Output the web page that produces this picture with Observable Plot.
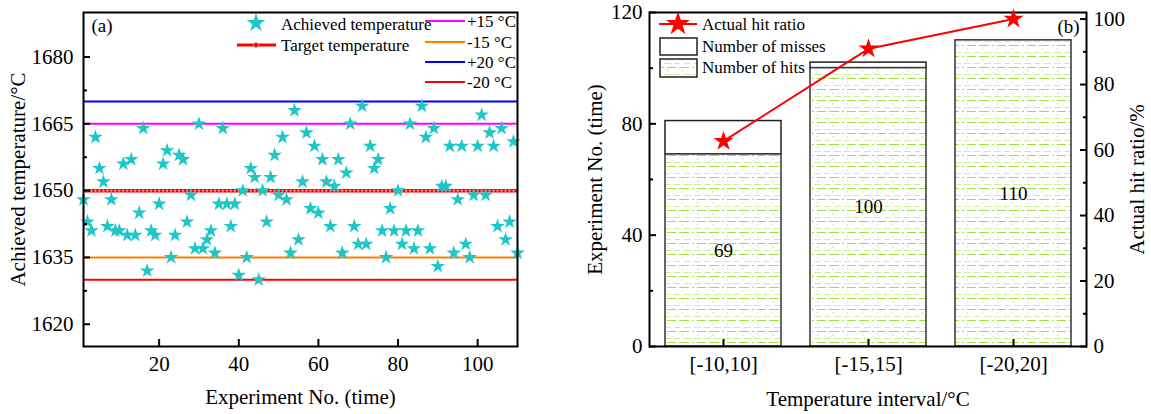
<!DOCTYPE html>
<html><head><meta charset="utf-8">
<script src="https://cdn.jsdelivr.net/npm/d3@7"></script>
<script src="https://cdn.jsdelivr.net/npm/@observablehq/plot@0.6"></script>
<style>
html,body{margin:0;padding:0;background:#fff;}
#chart{position:relative;width:1151px;height:414px;overflow:hidden;background:#fff;}
#chart svg{position:absolute;top:0;}
</style></head><body><div id="chart"></div>
<script>
// ---------- Panel (a) data ----------
const achieved = [
  1648,1643,1641,1662,1655,1652,1642,1648,1641,1641,
  1656,1640,1657,1640,1645,1664,1632,1641,1640,1647,
  1656,1659,1635,1640,1658,1657,1643,1649,1637,1665,
  1637,1639,1641,1636,1647,1664,1647,1642,1647,1631,
  1650,1635,1655,1653,1630,1650,1643,1653,1658,1649,
  1662,1648,1636,1668,1639,1652,1663,1646,1660,1645,
  1657,1652,1642,1651,1657,1636,1654,1665,1642,1638,
  1669,1638,1660,1655,1657,1641,1635,1646,1641,1650,
  1638,1641,1665,1637,1641,1669,1662,1637,1664,1633,
  1651,1651,1660,1636,1648,1660,1638,1635,1649,1660,
  1667,1649,1663,1660,1642,1664,1639,1643,1661,1636
];
const targetTemp = 1650;
const limitValues = [1665, 1635, 1670, 1630];
const limitLabels = ["+15 \u00B0C", "-15 \u00B0C", "+20 \u00B0C", "-20 \u00B0C"];
const limitColors = ["#ff00ff", "#ff8000", "#0000ff", "#ff0000"];
const tempTicks = [1620, 1635, 1650, 1665, 1680];
const tempMinorTicks = [1627.5, 1642.5, 1657.5, 1672.5];
const expTicks = [20, 40, 60, 80, 100];

// ---------- Panel (b) data ----------
const intervals = ["[-10,10]", "[-15,15]", "[-20,20]"];
const hits = [69, 100, 110];
const misses = [12, 2, 0];
const hitRatio = [62.7, 90.9, 100];
const countTicks = [0, 40, 80, 120];
const countMinorTicks = [20, 60, 100];
const ratioTicks = [0, 20, 40, 60, 80, 100];
const ratioMinorTicks = [10, 30, 50, 70, 90];

const font = "'Liberation Serif','Times New Roman',serif";
const cyan = "#1ec6c6";
const chart = document.getElementById("chart");
const plain = d => String(d);

// ---------- Panel (a) ----------
const pts = achieved.map((t, i) => ({n: i + 1, t}));
const left = Plot.plot({
  width: 560, height: 414,
  marginLeft: 83, marginRight: 43, marginTop: 12, marginBottom: 68,
  style: {fontFamily: font, fontSize: "21px", color: "black", background: "transparent", overflow: "visible"},
  x: {domain: [1, 110]},
  y: {domain: [1615, 1690]},
  marks: [
    ...limitValues.map((v, i) => Plot.ruleY([v], {stroke: limitColors[i], strokeWidth: 2})),
    Plot.ruleY([targetTemp], {stroke: "#ff0000", strokeWidth: 3.5}),
    Plot.dot(pts, {x: "n", y: () => targetTemp, r: 1.1, fill: "#ff9c9c", stroke: "none"}),
    Plot.dot(pts, {x: "n", y: "t", symbol: "star", r: 4.6, fill: cyan, stroke: "none"}),
    Plot.frame({stroke: "black", strokeWidth: 2}),
    Plot.axisY(tempTicks, {tickSize: -7, tickFormat: () => "", label: null, strokeWidth: 2}),
    Plot.axisY(tempMinorTicks, {tickSize: -4, tickFormat: () => "", label: null, strokeWidth: 2}),
    Plot.axisY(tempTicks, {tickSize: 0, tickPadding: 10, label: null, tickFormat: plain}),
    Plot.axisX(expTicks, {tickSize: -7, tickFormat: () => "", label: null, strokeWidth: 2}),
    Plot.axisX(expTicks, {tickSize: 0, tickPadding: 10, label: null, tickFormat: plain}),
    Plot.text(["Achieved temperature/\u00B0C"], {frameAnchor: "left", rotate: -90, dx: -65, textAnchor: "middle", lineAnchor: "middle", fontSize: 21}),
    Plot.text(["Experiment No. (time)"], {frameAnchor: "bottom", dy: 51, textAnchor: "middle", lineAnchor: "middle", fontSize: 21}),
    Plot.text(["(a)"], {frameAnchor: "top-left", dx: 8, dy: 13, textAnchor: "start", lineAnchor: "middle", fontSize: 19})
  ]
});
left.style.left = "0px";
chart.appendChild(left);

// legend (a)
{
  const s = d3.select(left);
  const g = s.append("g").attr("font-family", font).attr("font-size", 17).attr("text-anchor", "start").attr("fill", "black");
  g.append("path").attr("d", d3.symbol(d3.symbolStar, 110)()).attr("transform", "translate(256,23)").attr("fill", cyan);
  g.append("text").attr("x", 281).attr("y", 24).attr("dy", "0.35em").text("Achieved temperature");
  g.append("line").attr("x1", 237).attr("x2", 276).attr("y1", 45).attr("y2", 45).attr("stroke", "#ff0000").attr("stroke-width", 3);
  g.append("circle").attr("cx", 256).attr("cy", 45).attr("r", 2.5).attr("fill", "#ff0000").attr("stroke", "#ff9c9c").attr("stroke-width", 0.8);
  g.append("text").attr("x", 281).attr("y", 45).attr("dy", "0.35em").text("Target temperature");
  const ly = [21, 42, 62, 82];
  limitLabels.forEach((lab, i) => {
    g.append("line").attr("x1", 425).attr("x2", 465).attr("y1", ly[i]).attr("y2", ly[i]).attr("stroke", limitColors[i]).attr("stroke-width", 2);
    g.append("text").attr("x", 467).attr("y", ly[i]).attr("dy", "0.35em").text(lab);
  });
}

// ---------- Panel (b) ----------
const rows = intervals.map((k, i) => ({k, hits: hits[i], misses: misses[i], total: hits[i] + misses[i], ratio: hitRatio[i]}));
const xOpts = {domain: intervals, paddingInner: 0.2, paddingOuter: 0.1};
const dims = {width: 591, height: 414, marginLeft: 89, marginRight: 65, marginTop: 12, marginBottom: 68};

const bars = Plot.plot({
  ...dims,
  style: {fontFamily: font, fontSize: "21px", color: "black", background: "transparent", overflow: "visible"},
  x: xOpts,
  y: {domain: [0, 120]},
  marks: [
    Plot.barY(rows, {x: "k", y1: "hits", y2: "total", fill: "white", stroke: "#222", strokeWidth: 1.5}),
    Plot.barY(rows, {x: "k", y1: 0, y2: "hits", fill: "url(#hitsPattern)", stroke: "#333", strokeWidth: 1.5}),
    Plot.text(rows, {x: "k", y: d => d.hits / 2, text: d => String(d.hits), fontSize: 19}),
    Plot.frame({stroke: "black", strokeWidth: 2}),
    Plot.axisY(countTicks, {tickSize: -7, tickFormat: () => "", label: null, strokeWidth: 2}),
    Plot.axisY(countMinorTicks, {tickSize: -4, tickFormat: () => "", label: null, strokeWidth: 2}),
    Plot.axisY(countTicks, {tickSize: 0, tickPadding: 7, label: null, tickFormat: plain}),
    Plot.axisX({tickSize: -7, tickFormat: () => "", label: null, strokeWidth: 2}),
    Plot.axisX({tickSize: 0, tickPadding: 10, label: null}),
    Plot.text(["Experiment No. (time)"], {frameAnchor: "left", rotate: -90, dx: -54, textAnchor: "middle", lineAnchor: "middle", fontSize: 21}),
    Plot.text(["Temperature interval/\u00B0C"], {frameAnchor: "bottom", dy: 53, textAnchor: "middle", lineAnchor: "middle", fontSize: 21}),
    Plot.text(["(b)"], {frameAnchor: "top-right", dx: -18, dy: 14, textAnchor: "middle", lineAnchor: "middle", fontSize: 19})
  ]
});
bars.style.left = "560px";
chart.appendChild(bars);

// pattern + legend (b)
{
  const s = d3.select(bars);
  const defs = s.insert("defs", ":first-child");
  const p = defs.append("pattern").attr("id", "hitsPattern").attr("patternUnits", "userSpaceOnUse").attr("width", 30).attr("height", 11);
  p.append("rect").attr("width", 30).attr("height", 11).attr("fill", "white");
  p.append("line").attr("x1", 0).attr("x2", 30).attr("y1", 1.5).attr("y2", 1.5).attr("stroke", "#a2e040").attr("stroke-width", 1).attr("stroke-dasharray", "9,3,2,3");
  p.append("line").attr("x1", 2).attr("x2", 30).attr("y1", 5).attr("y2", 5).attr("stroke", "#b0e468").attr("stroke-width", 1).attr("stroke-dasharray", "1.2,13.8");
  p.append("line").attr("x1", 4).attr("x2", 34).attr("y1", 8.5).attr("y2", 8.5).attr("stroke", "#cfefa4").attr("stroke-width", 1).attr("stroke-dasharray", "7,3");
  const g = s.append("g").attr("font-family", font).attr("font-size", 17).attr("text-anchor", "start").attr("fill", "black");
  const ox = -560;
  g.append("line").attr("x1", 659 + ox).attr("x2", 697 + ox).attr("y1", 24).attr("y2", 24).attr("stroke", "#ff0000").attr("stroke-width", 2);
  g.append("path").attr("d", d3.symbol(d3.symbolStar, 180)()).attr("transform", `translate(${678 + ox},24)`).attr("fill", "#ff0000");
  g.append("text").attr("x", 702 + ox).attr("y", 24).attr("dy", "0.35em").text("Actual hit ratio");
  g.append("rect").attr("x", 660 + ox).attr("y", 38).attr("width", 37).attr("height", 17).attr("fill", "white").attr("stroke", "#222").attr("stroke-width", 1.5);
  g.append("text").attr("x", 702 + ox).attr("y", 46).attr("dy", "0.35em").text("Number of misses");
  g.append("rect").attr("x", 660 + ox).attr("y", 59).attr("width", 37).attr("height", 18).attr("fill", "url(#hitsPattern)").attr("stroke", "#222").attr("stroke-width", 1.5);
  g.append("text").attr("x", 702 + ox).attr("y", 67).attr("dy", "0.35em").text("Number of hits");
}

const ratio = Plot.plot({
  ...dims,
  style: {fontFamily: font, fontSize: "21px", color: "black", background: "transparent", overflow: "visible"},
  x: {...xOpts, axis: null},
  y: {domain: [0, 102]},
  marks: [
    Plot.line(rows, {x: "k", y: "ratio", stroke: "#ff0000", strokeWidth: 2}),
    Plot.dot(rows, {x: "k", y: "ratio", symbol: "star", r: 6.3, fill: "#ff0000", stroke: "none"}),
    Plot.axisY(ratioTicks, {anchor: "right", tickSize: -7, tickFormat: () => "", label: null, strokeWidth: 2}),
    Plot.axisY(ratioMinorTicks, {anchor: "right", tickSize: -4, tickFormat: () => "", label: null, strokeWidth: 2}),
    Plot.axisY(ratioTicks, {anchor: "right", tickSize: 0, tickPadding: 7, label: null, tickFormat: plain}),
    Plot.text(["Actual hit ratio/%"], {frameAnchor: "right", rotate: -90, dx: 51, textAnchor: "middle", lineAnchor: "middle", fontSize: 21})
  ]
});
ratio.style.left = "560px";
chart.appendChild(ratio);
</script>
</body></html>
